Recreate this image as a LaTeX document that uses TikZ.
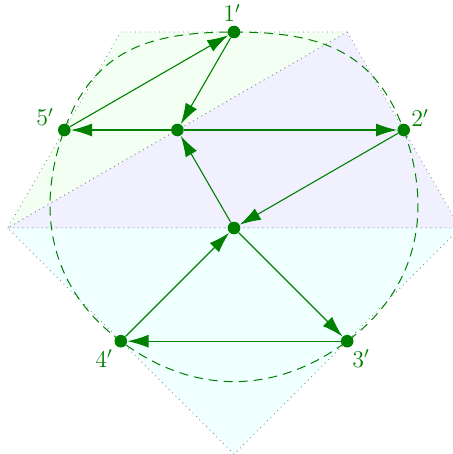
\documentclass[tikz,border=0pt]{standalone}
\usetikzlibrary{arrows.meta}
\definecolor{dkg}{rgb}{0,0.5,0}
\definecolor{regg}{rgb}{0.95,1,0.95}
\definecolor{regb}{rgb}{0.94,0.94,1}
\definecolor{regc}{rgb}{0.94,1,1}
\begin{document}
\begin{tikzpicture}[x=0.5pt,y=-0.5pt,
  dot/.style={circle,fill=dkg,inner sep=0pt,minimum size=6.3pt},
  lbl/.style={text=dkg,inner sep=0pt,anchor=base,font=\fontsize{11.5}{13}\selectfont},
  arr/.style={draw=dkg,line width=0.55pt,-{Latex[length=10.5pt,width=6.5pt]}},
  region/.style={draw=gray,dotted,line width=0.4pt}]
\useasboundingbox (0,0) rectangle (453,454);
% regions
\filldraw[region,fill=regg] (120.8,32) -- (347.2,32) -- (7.7,228) -- cycle;
\filldraw[region,fill=regb] (347.2,32) -- (460.3,228) -- (7.7,228) -- cycle;
\filldraw[region,fill=regc] (7.7,228) -- (460.3,228) -- (234,454.3) -- cycle;
% points
\coordinate (c1) at (234,32);
\coordinate (c2) at (403.7,130);
\coordinate (c3) at (347.2,341.2);
\coordinate (c4) at (120.8,341.2);
\coordinate (c5) at (64.3,130);
\draw[dkg,line width=0.5pt,dash pattern=on 4.5pt off 3pt]
  plot[smooth cycle,tension=0.92] coordinates {(c1) (c2) (c3) (c4) (c5)};
\node[dot] (p1) at (c1) {};
\node[dot] (p2) at (c2) {};
\node[dot] (p3) at (c3) {};
\node[dot] (p4) at (c4) {};
\node[dot] (p5) at (c5) {};
\node[dot] (q) at (177.4,130) {};
\node[dot] (o) at (234,228) {};
% labels
\node[lbl] (l1) at (232,22) {$1'$};
\node[lbl] (l2) at (420,127) {$2'$};
\node[lbl] (l3) at (361,367) {$3'$};
\node[lbl] (l4) at (104,367) {$4'$};
\node[lbl] (l5) at (45,126) {$5'$};
% arrows
\draw[arr] (p5) -- (p1);
\draw[arr] (p1) -- (q);
\draw[arr] (q) -- (p5);
\draw[arr] (q) -- (p2);
\draw[arr] (p2) -- (o);
\draw[arr] (o) -- (q);
\draw[arr] (o) -- (p3);
\draw[arr] (p3) -- (p4);
\draw[arr] (p4) -- (o);
\end{tikzpicture}
\end{document}
